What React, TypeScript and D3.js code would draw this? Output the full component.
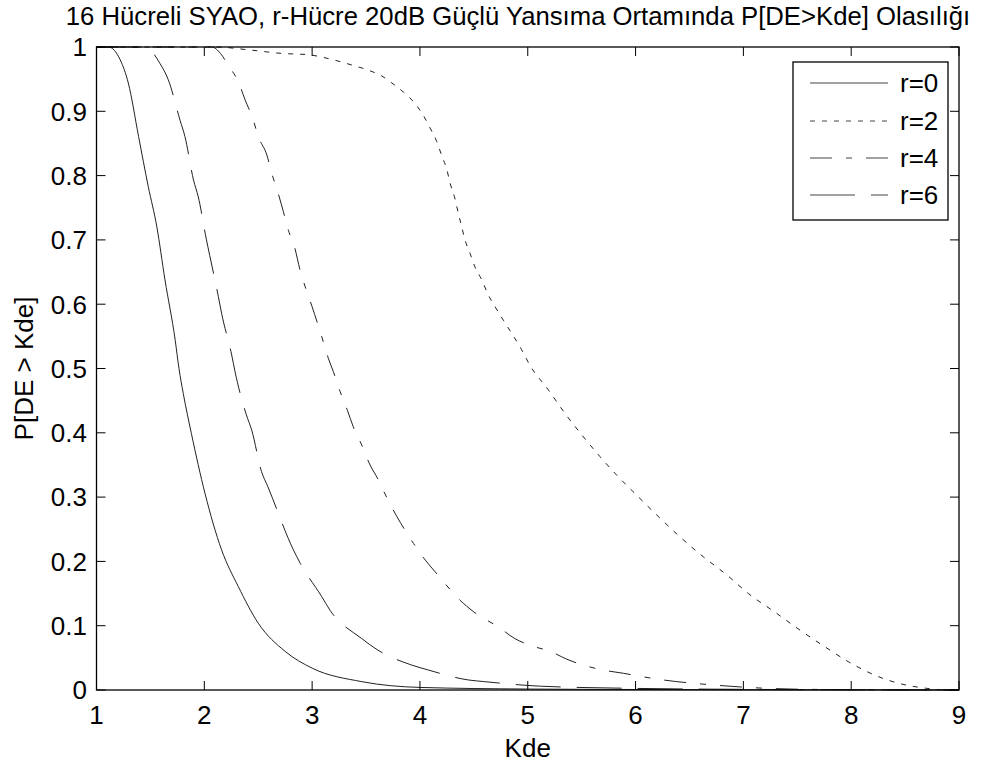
import React from "react";
import * as d3 from "d3";

const title = "16 Hücreli SYAO, r-Hücre 20dB Güçlü Yansıma Ortamında P[DE>Kde] Olasılığı";
const xLabel = "Kde";
const yLabel = "P[DE > Kde]";
const xTicks = [1, 2, 3, 4, 5, 6, 7, 8, 9];
const yTicks = [0, 0.1, 0.2, 0.3, 0.4, 0.5, 0.6, 0.7, 0.8, 0.9, 1];
const seriesNames = ["r=0", "r=2", "r=4", "r=6"];

const r0X = [1.0, 1.11, 1.22, 1.295, 1.39, 1.48, 1.56, 1.635, 1.73, 1.765, 1.805, 1.88, 2.006, 2.16, 2.315, 2.5, 2.75, 3.0, 3.46, 4.0, 5.0, 6.0, 7.0, 9.0];
const r0Y = [1.0, 1.0, 0.98, 0.944, 0.861, 0.783, 0.72, 0.638, 0.544, 0.5, 0.461, 0.399, 0.306, 0.218, 0.161, 0.104, 0.06, 0.034, 0.013, 0.004, 0.0015, 0.0008, 0.0004, 0.0];

const r2X = [1.0, 2.1, 2.44, 2.72, 2.965, 3.15, 3.367, 3.52, 3.645, 3.74, 3.846, 3.955, 4.03, 4.094, 4.156, 4.2, 4.25, 4.28, 4.32, 4.357, 4.388, 4.418, 4.465, 4.51, 4.573, 4.635, 4.697, 4.774, 4.85, 4.944, 5.02, 5.19, 5.346, 5.5, 5.67, 5.826, 6.01, 6.21, 6.413, 6.63, 6.846, 7.047, 7.31, 7.526, 7.758, 7.974, 8.22, 8.45, 8.7, 8.89, 9.0];
const r2Y = [1.0, 1.0, 0.995, 0.99, 0.988, 0.982, 0.972, 0.964, 0.955, 0.944, 0.93, 0.912, 0.894, 0.874, 0.853, 0.832, 0.809, 0.788, 0.767, 0.741, 0.72, 0.7, 0.679, 0.658, 0.638, 0.614, 0.596, 0.575, 0.555, 0.529, 0.505, 0.467, 0.43, 0.397, 0.363, 0.334, 0.303, 0.27, 0.238, 0.207, 0.179, 0.15, 0.119, 0.093, 0.067, 0.044, 0.023, 0.01, 0.0026, 0.0, 0.0];

const r4X = [1.0, 2.07, 2.15, 2.22, 2.315, 2.378, 2.455, 2.5, 2.58, 2.625, 2.686, 2.733, 2.78, 2.84, 2.888, 2.94, 3.0, 3.09, 3.15, 3.197, 3.26, 3.327, 3.38, 3.46, 3.537, 3.614, 3.69, 3.785, 3.86, 3.94, 4.05, 4.14, 4.23, 4.37, 4.495, 4.727, 4.88, 5.05, 5.21, 5.36, 5.67, 5.887, 6.197, 6.72, 7.217, 7.6, 9.0];
const r4Y = [1.0, 1.0, 0.99, 0.972, 0.946, 0.918, 0.886, 0.861, 0.832, 0.804, 0.772, 0.744, 0.715, 0.687, 0.653, 0.625, 0.596, 0.549, 0.516, 0.495, 0.464, 0.435, 0.41, 0.381, 0.35, 0.327, 0.3, 0.27, 0.249, 0.228, 0.202, 0.184, 0.166, 0.14, 0.122, 0.098, 0.08, 0.068, 0.06, 0.048, 0.032, 0.026, 0.017, 0.0078, 0.0026, 0.001, 0.0];

const r6X = [1.0, 1.45, 1.59, 1.666, 1.775, 1.82, 1.9, 1.944, 2.02, 2.05, 2.13, 2.16, 2.254, 2.285, 2.39, 2.44, 2.53, 2.59, 2.826, 2.89, 3.09, 3.166, 3.46, 3.61, 3.92, 4.08, 4.45, 4.6, 5.11, 6.0, 7.0, 8.0, 9.0];
const r6Y = [1.0, 1.0, 0.974, 0.949, 0.886, 0.861, 0.793, 0.767, 0.7, 0.676, 0.612, 0.586, 0.521, 0.495, 0.428, 0.404, 0.34, 0.316, 0.218, 0.197, 0.145, 0.124, 0.08, 0.062, 0.039, 0.031, 0.0156, 0.013, 0.006, 0.0025, 0.001, 0.0004, 0.0];

const seriesX = [r0X, r2X, r4X, r6X];
const seriesY = [r0Y, r2Y, r4Y, r6Y];
const dashes = ["none", "5,7", "22,14,6,14", "45,16"];

const W = 992;
const H = 765;
const left = 96.5;
const right = 959;
const top = 47;
const bottom = 690;
const font = "'Liberation Sans', Arial, sans-serif";
const fs = 26;

export default function App() {
  const x = d3.scaleLinear().domain([1, 9]).range([left, right]);
  const y = d3.scaleLinear().domain([0, 1]).range([bottom, top]);
  const line = d3
    .line<[number, number]>()
    .x((d) => x(d[0]))
    .y((d) => y(d[1]))
    .curve(d3.curveMonotoneX);
  const tickLen = 9;
  const legX = 793, legY = 62, legW = 155, legH = 158;
  const rowY = [83, 121, 158, 195];

  return (
    <svg width={W} height={H} style={{ position: "absolute", left: 0, top: 0, background: "#fff" }} fontFamily={font}>
      <rect x={0} y={0} width={W} height={H} fill="#fff" />
      <defs>
        <clipPath id="plotclip">
          <rect x={left} y={top - 1} width={right - left} height={bottom - top + 2} />
        </clipPath>
      </defs>
      <g clipPath="url(#plotclip)">
        {seriesX.map((xs, i) => (
          <path
            key={i}
            d={line(xs.map((v, j) => [v, seriesY[i][j]] as [number, number])) || ""}
            fill="none"
            stroke="#222"
            strokeWidth={1}
            strokeDasharray={dashes[i]}
          />
        ))}
      </g>
      <rect x={left} y={top} width={right - left} height={bottom - top} fill="none" stroke="#000" strokeWidth={1.3} />
      {xTicks.map((t) => (
        <g key={"x" + t}>
          <line x1={x(t)} x2={x(t)} y1={bottom} y2={bottom - tickLen} stroke="#000" />
          <line x1={x(t)} x2={x(t)} y1={top} y2={top + tickLen} stroke="#000" />
          <text x={x(t)} y={724} textAnchor="middle" fontSize={fs} fill="#000">
            {t}
          </text>
        </g>
      ))}
      {yTicks.map((t) => (
        <g key={"y" + t}>
          <line x1={left} x2={left + tickLen} y1={y(t)} y2={y(t)} stroke="#000" />
          <line x1={right} x2={right - tickLen} y1={y(t)} y2={y(t)} stroke="#000" />
          <text x={87} y={y(t)} dy="0.36em" textAnchor="end" fontSize={fs} fill="#000">
            {d3.format("~g")(t)}
          </text>
        </g>
      ))}
      <text x={518} y={25} textAnchor="middle" fontSize={25.7} fill="#000">
        {title}
      </text>
      <text x={(left + right) / 2} y={757} textAnchor="middle" fontSize={fs} fill="#000">
        {xLabel}
      </text>
      <text
        transform={`translate(33, ${(top + bottom) / 2}) rotate(-90)`}
        textAnchor="middle"
        fontSize={fs}
        fill="#000"
      >
        {yLabel}
      </text>
      <rect x={legX} y={legY} width={legW} height={legH} fill="#fff" stroke="#000" strokeWidth={1.3} />
      {seriesNames.map((n, i) => (
        <g key={n}>
          <line x1={810} x2={888} y1={rowY[i]} y2={rowY[i]} stroke="#444" strokeWidth={1} strokeDasharray={dashes[i]} />
          <text x={900} y={rowY[i]} dy="0.36em" fontSize={fs} fill="#000">
            {n}
          </text>
        </g>
      ))}
    </svg>
  );
}
